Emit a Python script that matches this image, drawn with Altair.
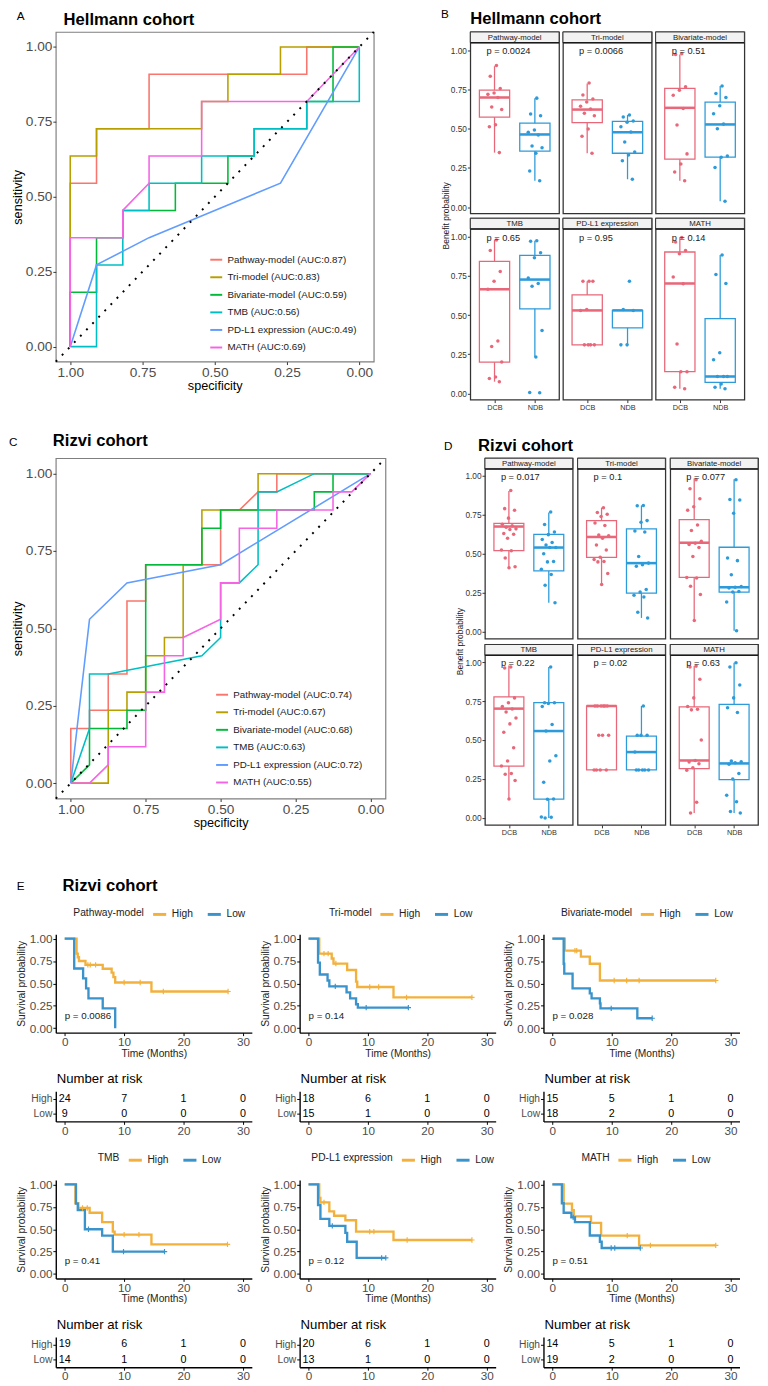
import altair as alt
import pandas as pd

FONT = "Liberation Sans"

# ------------------------------------------------------------------ ROC (panels A, C)
roc_models = ["Pathway-model", "Tri-model", "Bivariate-model", "TMB", "PD-L1 expression", "MATH"]
roc_colors = ["#F8766D", "#B79F00", "#00BA38", "#00BFC4", "#619CFF", "#F564E3"]

hell_n_dcb = 11
hell_n_ndb = 11
hell_auc = ["0.87", "0.83", "0.59", "0.56", "0.49", "0.69"]
# vertices: number of NDB patients passed (fp) and DCB patients detected (tp)
hell_fp = [
    [0, 0, 1, 1, 3, 3, 9, 9, 11],
    [0, 0, 1, 1, 5, 5, 6, 6, 8, 8, 11],
    [0, 0, 1, 1, 2, 2, 4, 4, 6, 6, 7, 7, 9, 9, 10, 10, 11],
    [0, 1, 1, 2, 2, 3, 3, 5, 5, 7, 7, 9, 9, 11, 11],
    [0, 1, 3, 8, 11],
    [0, 0, 2, 2, 3, 3, 5, 5, 9, 11],
]
hell_tp = [
    [0, 6, 6, 8, 8, 10, 10, 11, 11],
    [0, 7, 7, 8, 8, 9, 9, 10, 10, 11, 11],
    [0, 2, 2, 4, 4, 5, 5, 6, 6, 7, 7, 8, 8, 9, 9, 11, 11],
    [0, 0, 3, 3, 5, 5, 6, 6, 7, 7, 8, 8, 9, 9, 11],
    [0, 3, 4, 6, 11],
    [0, 4, 4, 5, 6, 7, 7, 9, 9, 11],
]

rizvi_n_dcb = 17
rizvi_n_ndb = 16
rizvi_auc = ["0.74", "0.67", "0.68", "0.63", "0.72", "0.55"]
rizvi_fp = [
    [0, 0, 1, 1, 2, 2, 3, 3, 4, 4, 8, 8, 9, 10, 11, 11, 16],
    [0, 2, 2, 3, 3, 4, 4, 5, 5, 6, 6, 7, 7, 10, 10, 16],
    [0, 1, 1, 3, 3, 4, 4, 7, 7, 8, 8, 13, 13, 14, 14, 16],
    [0, 1, 1, 2, 7, 8, 8, 9, 10, 10, 11, 13, 16],
    [0, 1, 3, 8, 16],
    [0, 1, 2, 2, 4, 4, 5, 5, 6, 6, 8, 8, 9, 9, 11, 11, 14, 14, 15, 16],
]
rizvi_tp = [
    [0, 3, 3, 4, 4, 6, 6, 10, 10, 12, 12, 15, 15, 16, 16, 17, 17],
    [0, 0, 4, 4, 5, 5, 7, 7, 8, 8, 12, 12, 15, 15, 17, 17],
    [0, 1, 3, 3, 4, 4, 12, 12, 14, 14, 15, 15, 16, 16, 17, 17],
    [0, 3, 6, 6, 7, 8, 11, 11, 12, 16, 16, 17, 17],
    [0, 9, 11, 12, 17],
    [0, 0, 1, 2, 2, 5, 5, 7, 7, 8, 9, 11, 11, 14, 14, 15, 15, 16, 16, 17],
]

# ------------------------------------------------------------------ boxplots (panels B, D)
box_groups = ["DCB", "NDB"]
box_colors = ["#E8687A", "#2D9BDA"]

# [lower whisker, Q1, median, Q3, upper whisker]
hell_box_dcb = [
    [0.348, 0.575, 0.700, 0.747, 0.900],
    [0.344, 0.540, 0.623, 0.685, 0.789],
    [0.168, 0.306, 0.634, 0.758, 0.975],
    [0.075, 0.200, 0.665, 0.843, 0.981],
    [0.310, 0.310, 0.530, 0.629, 0.716],
    [0.030, 0.139, 0.702, 0.903, 0.998],
]
hell_box_ndb = [
    [0.168, 0.358, 0.464, 0.536, 0.696],
    [0.178, 0.344, 0.478, 0.547, 0.588],
    [0.037, 0.319, 0.528, 0.671, 0.774],
    [0.232, 0.540, 0.727, 0.882, 0.975],
    [0.310, 0.419, 0.530, 0.530, 0.530],
    [0.030, 0.070, 0.108, 0.478, 0.884],
]
hell_pts_dcb = [
    [0.905, 0.836, 0.758, 0.729, 0.72, 0.70, 0.64, 0.623, 0.526, 0.513, 0.348],
    [0.793, 0.716, 0.69, 0.671, 0.644, 0.627, 0.60, 0.584, 0.499, 0.453, 0.344],
    [0.979, 0.975, 0.768, 0.747, 0.714, 0.63, 0.524, 0.34, 0.275, 0.224, 0.168],
    [0.98, 0.913, 0.778, 0.716, 0.665, 0.335, 0.30, 0.20, 0.105, 0.095, 0.075],
    [0.716, 0.716, 0.716, 0.536, 0.53, 0.31, 0.31, 0.31, 0.31],
    [0.995, 0.967, 0.913, 0.892, 0.743, 0.70, 0.315, 0.139, 0.139, 0.04, 0.03],
]
hell_pts_ndb = [
    [0.696, 0.594, 0.584, 0.493, 0.478, 0.46, 0.391, 0.379, 0.344, 0.23, 0.168],
    [0.588, 0.576, 0.55, 0.542, 0.513, 0.48, 0.416, 0.352, 0.333, 0.296, 0.178],
    [0.774, 0.726, 0.70, 0.648, 0.596, 0.53, 0.50, 0.327, 0.319, 0.253, 0.037],
    [0.975, 0.972, 0.899, 0.867, 0.737, 0.702, 0.685, 0.402, 0.232, 0.006, 0.004],
    [0.716, 0.536, 0.53, 0.31, 0.31],
    [0.884, 0.76, 0.702, 0.259, 0.215, 0.108, 0.108, 0.108, 0.06, 0.04, 0.03],
]
hell_pvals = ["p = 0.0024", "p = 0.0066", "p = 0.51", "p = 0.65", "p = 0.95", "p = 0.14"]

rizvi_box_dcb = [
    [0.410, 0.520, 0.675, 0.696, 0.904],
    [0.300, 0.477, 0.608, 0.713, 0.796],
    [0.071, 0.348, 0.571, 0.719, 0.983],
    [0.121, 0.333, 0.702, 0.777, 0.979],
    [0.308, 0.308, 0.719, 0.719, 0.719],
    [0.031, 0.317, 0.369, 0.713, 0.975],
]
rizvi_box_ndb = [
    [0.185, 0.390, 0.540, 0.625, 0.765],
    [0.088, 0.248, 0.440, 0.660, 0.810],
    [0.006, 0.254, 0.285, 0.542, 0.979],
    [0.000, 0.121, 0.558, 0.740, 0.969],
    [0.308, 0.308, 0.423, 0.525, 0.719],
    [0.031, 0.246, 0.350, 0.729, 0.996],
]
rizvi_pts_dcb = [
    [0.906, 0.79, 0.78, 0.729, 0.69, 0.68, 0.67, 0.66, 0.656, 0.63, 0.625, 0.60, 0.525, 0.52, 0.473, 0.417, 0.41],
    [0.796, 0.765, 0.754, 0.74, 0.698, 0.681, 0.62, 0.615, 0.60, 0.556, 0.525, 0.477, 0.463, 0.45, 0.448, 0.373, 0.302],
    [0.975, 0.917, 0.854, 0.802, 0.779, 0.685, 0.65, 0.581, 0.567, 0.56, 0.54, 0.483, 0.348, 0.345, 0.292, 0.238, 0.071],
    [0.969, 0.963, 0.771, 0.74, 0.715, 0.70, 0.68, 0.642, 0.604, 0.55, 0.45, 0.365, 0.333, 0.285, 0.281, 0.24, 0.121],
    [0.719, 0.719, 0.719, 0.719, 0.719, 0.719, 0.531, 0.531, 0.531, 0.308, 0.308, 0.308, 0.308],
    [0.975, 0.969, 0.89, 0.771, 0.715, 0.698, 0.694, 0.50, 0.369, 0.36, 0.348, 0.323, 0.306, 0.10, 0.031],
]
rizvi_pts_ndb = [
    [0.769, 0.688, 0.64, 0.623, 0.592, 0.573, 0.556, 0.54, 0.54, 0.50, 0.45, 0.448, 0.40, 0.367, 0.298, 0.185],
    [0.81, 0.808, 0.713, 0.702, 0.646, 0.64, 0.483, 0.44, 0.43, 0.42, 0.27, 0.254, 0.233, 0.223, 0.125, 0.088],
    [0.975, 0.848, 0.845, 0.76, 0.473, 0.456, 0.365, 0.29, 0.285, 0.28, 0.258, 0.254, 0.19, 0.006],
    [0.969, 0.74, 0.74, 0.735, 0.715, 0.60, 0.558, 0.40, 0.365, 0.229, 0.121, 0.12, 0.006, 0.004, 0.0],
    [0.719, 0.531, 0.531, 0.531, 0.423, 0.308, 0.308, 0.308, 0.308, 0.308],
    [0.996, 0.969, 0.854, 0.771, 0.708, 0.677, 0.365, 0.36, 0.355, 0.344, 0.285, 0.25, 0.146, 0.104, 0.042, 0.031],
]
rizvi_pvals = ["p = 0.017", "p = 0.1", "p = 0.077", "p = 0.22", "p = 0.02", "p = 0.63"]

# ------------------------------------------------------------------ Kaplan-Meier (panel E)
km_models = ["Pathway-model", "Tri-model", "Bivariate-model", "TMB", "PD-L1 expression", "MATH"]
km_pvals = ["p = 0.0086", "p = 0.14", "p = 0.028", "p = 0.41", "p = 0.12", "p = 0.51"]
km_colors = ["#F2B13C", "#3A93CB"]

km_high_t = [
    [0, 2.0, 2.2, 2.4, 3.5, 6.4, 7.9, 8.2, 8.5, 14.6],
    [0, 1.8, 3.9, 4.2, 6.5, 8.0, 8.2, 14.3],
    [0, 2.1, 4.8, 6.3, 8.0],
    [0, 1.8, 2.3, 4.2, 6.3, 8.1, 8.4, 14.6],
    [0, 1.8, 2.0, 3.5, 4.3, 6.2, 8.0, 14.3],
    [0, 1.9, 3.3, 3.6, 6.5, 8.2, 14.6],
]
km_high_s = [
    [1.0, 0.833, 0.792, 0.75, 0.708, 0.664, 0.62, 0.57, 0.51, 0.41],
    [1.0, 0.833, 0.778, 0.722, 0.65, 0.52, 0.46, 0.345],
    [1.0, 0.867, 0.80, 0.72, 0.533],
    [1.0, 0.79, 0.737, 0.684, 0.579, 0.474, 0.44, 0.33],
    [1.0, 0.85, 0.80, 0.70, 0.65, 0.60, 0.473, 0.38],
    [1.0, 0.786, 0.714, 0.643, 0.571, 0.429, 0.32],
]
km_high_end = [27.5, 27.5, 27.5, 27.4, 27.5, 27.5]
km_high_cens = [
    [3.9, 4.3, 5.2, 10.0, 12.7, 16.6, 27.5],
    [2.6, 3.3, 4.6, 10.3, 11.8, 16.5, 27.5],
    [3.8, 4.1, 10.4, 12.5, 14.6, 27.5],
    [3.0, 3.8, 10.0, 12.5, 27.4],
    [2.6, 10.3, 11.0, 16.6, 27.5],
    [12.6, 16.5, 27.5],
]
km_low_t = [
    [0, 1.6, 3.1, 3.6, 4.0, 6.4, 8.5],
    [0, 1.6, 1.9, 3.2, 3.5, 6.4, 7.0, 8.0, 8.3],
    [0, 1.9, 2.0, 3.4, 6.3, 6.6, 8.0, 8.1, 14.3],
    [0, 1.9, 2.2, 3.4, 6.3, 8.1],
    [0, 1.6, 2.0, 3.5, 6.2, 6.5, 8.1],
    [0, 1.6, 1.9, 3.2, 3.8, 6.3, 8.0, 8.3],
]
km_low_s = [
    [1.0, 0.667, 0.556, 0.444, 0.333, 0.222, 0.0],
    [1.0, 0.733, 0.60, 0.533, 0.467, 0.40, 0.333, 0.267, 0.23],
    [1.0, 0.72, 0.61, 0.444, 0.389, 0.333, 0.278, 0.222, 0.111],
    [1.0, 0.786, 0.714, 0.50, 0.429, 0.25],
    [1.0, 0.77, 0.615, 0.538, 0.46, 0.36, 0.18],
    [1.0, 0.79, 0.684, 0.632, 0.579, 0.43, 0.36, 0.29],
]
km_low_end = [8.5, 16.8, 16.8, 16.8, 13.0, 14.8]
km_low_cens = [
    [],
    [4.5, 9.7, 16.8],
    [9.9, 16.8],
    [4.0, 9.9, 16.8],
    [4.0, 12.3, 13.0],
    [3.5, 9.9, 10.5, 14.8],
]
risk_times = [0, 10, 20, 30]
risk_high = [[24, 7, 1, 0], [18, 6, 1, 0], [15, 5, 1, 0], [19, 6, 1, 0], [20, 6, 1, 0], [14, 5, 1, 0]]
risk_low = [[9, 0, 0, 0], [15, 1, 0, 0], [18, 2, 0, 0], [14, 1, 0, 0], [13, 1, 0, 0], [19, 2, 0, 0]]


# ================================================================== builders
def indep(ch):
    return ch.resolve_scale(color="independent", stroke="independent").resolve_legend(
        color="independent", stroke="independent")


def label_layer(text, x, y, size=12, bold=False):
    return alt.Chart(pd.DataFrame({"t": [text]})).mark_text(
        align="left", baseline="middle", fontSize=size, font=FONT, color="black",
        fontWeight="bold" if bold else "normal"
    ).encode(x=alt.value(x), y=alt.value(y), text="t:N")


def heading(letter, lxy, title, txy):
    return [label_layer(letter, lxy[0], lxy[1], 12), label_layer(title, txy[0], txy[1], 17, True)]


def roc_chart(fp, tp, n_dcb, n_ndb, aucs, w, h, head, legxy):
    rows = []
    labels = []
    for m, f_l, t_l, auc in zip(roc_models, fp, tp, aucs):
        lab = f"{m} (AUC:{auc})"
        labels.append(lab)
        for o, (f, t) in enumerate(zip(f_l, t_l)):
            rows.append({"label": lab, "ord": o, "spec": 1 - f / n_ndb, "sens": t / n_dcb})
    df = pd.DataFrame(rows)
    ax = dict(grid=False, domain=False, tickColor="#333333", tickSize=3, tickWidth=1,
              labelFontSize=14, labelColor="#4D4D4D", titleFontSize=13,
              titleFontWeight="normal", titleColor="black", labelPadding=1,
              titlePadding=1, values=[0, 0.25, 0.5, 0.75, 1], format=".2f")
    X = alt.X("spec:Q", scale=alt.Scale(domain=[-0.05, 1.05], reverse=True, nice=False, zero=False),
              axis=alt.Axis(title="specificity", **ax))
    Y = alt.Y("sens:Q", scale=alt.Scale(domain=[-0.05, 1.05], nice=False, zero=False),
              axis=alt.Axis(title="sensitivity", **ax))
    lines = alt.Chart(df).mark_line(strokeWidth=1.6).encode(
        x=X, y=Y,
        color=alt.Color("label:N", scale=alt.Scale(domain=labels, range=roc_colors),
                        legend=alt.Legend(orient="none", legendX=legxy[0], legendY=legxy[1],
                                          title=None, symbolType="stroke", symbolStrokeWidth=2,
                                          symbolSize=150, labelFontSize=10, labelFont=FONT,
                                          labelColor="#1A1A1A", rowPadding=5, padding=0)),
        order=alt.Order("ord:Q"),
    )
    diag = pd.DataFrame({"spec": [1.05, -0.05], "sens": [-0.05, 1.05]})
    dline = alt.Chart(diag).mark_line(color="black", strokeDash=[2, 7], strokeWidth=2).encode(x=X, y=Y)
    return alt.layer(lines, dline, *head).properties(
        width=w, height=h, view=alt.ViewBackground(stroke="#7F7F7F", strokeWidth=1.2))


def box_panel(strip, bd, bn, pd_, pn, ptxt, ydom, w, sh, ph, show_y, show_x, extra):
    H = sh + ph
    box = pd.DataFrame({
        "grp": box_groups, "pos": [1.0, 2.0],
        "lo": [bd[0], bn[0]], "q1": [bd[1], bn[1]], "med": [bd[2], bn[2]],
        "q3": [bd[3], bn[3]], "hi": [bd[4], bn[4]],
    })
    box["xl"] = box["pos"] - 0.375
    box["xr"] = box["pos"] + 0.375
    prow = []
    for g, pos, vals in [("DCB", 1.0, pd_), ("NDB", 2.0, pn)]:
        for k, v in enumerate(vals):
            jit = (((k + 1) * 0.618034) % 1.0 - 0.5) * 0.4
            prow.append({"grp": g, "val": v, "jx": pos + jit})
    pts = pd.DataFrame(prow)
    xs = alt.Scale(domain=[0.4, 2.6], nice=False, zero=False)
    ys = alt.Scale(domain=ydom, range=[H, sh], nice=False, zero=False)
    xaxis = alt.Axis(values=[1, 2], labelExpr="datum.value == 1 ? 'DCB' : 'NDB'", title=None,
                     grid=False, domain=False, tickColor="#333333", tickSize=3,
                     labelFontSize=7.5, labelColor="#333333", labelPadding=1) if show_x else None
    yaxis = alt.Axis(values=[0, 0.25, 0.5, 0.75, 1], format=".2f", title=None, grid=False,
                     domain=False, tickColor="#333333", tickSize=3, labelFontSize=8.5,
                     labelColor="#333333", labelPadding=1) if show_y else None
    col = alt.Color("grp:N", scale=alt.Scale(domain=box_groups, range=box_colors), legend=None)
    sdf = pd.DataFrame({"s": [strip]})
    strip_rect = alt.Chart(sdf).mark_rect(fill="#F2F2F2", stroke="#333333", strokeWidth=1).encode(
        x=alt.value(0), x2=alt.value(w), y=alt.value(0), y2=alt.value(sh))
    strip_txt = alt.Chart(sdf).mark_text(fontSize=8, font=FONT, color="#1A1A1A", baseline="middle").encode(
        x=alt.value(w / 2), y=alt.value(sh / 2 + 0.5), text="s:N")
    strip_rule = alt.Chart(sdf).mark_rule(color="#1A1A1A", strokeWidth=1.6).encode(
        x=alt.value(0), x2=alt.value(w), y=alt.value(sh))
    rect = alt.Chart(box).mark_rect(fill="white", strokeWidth=1.3).encode(
        x=alt.X("xl:Q", scale=xs, axis=xaxis), x2="xr:Q",
        y=alt.Y("q1:Q", scale=ys, axis=yaxis), y2="q3:Q",
        stroke=alt.Stroke("grp:N", scale=alt.Scale(domain=box_groups, range=box_colors), legend=None))
    wh_hi = alt.Chart(box).mark_rule(strokeWidth=1.3).encode(
        x=alt.X("pos:Q", scale=xs, axis=xaxis), y=alt.Y("q3:Q", scale=ys, axis=yaxis), y2="hi:Q", color=col)
    wh_lo = alt.Chart(box).mark_rule(strokeWidth=1.3).encode(
        x=alt.X("pos:Q", scale=xs, axis=xaxis), y=alt.Y("lo:Q", scale=ys, axis=yaxis), y2="q1:Q", color=col)
    med = alt.Chart(box).mark_rule(strokeWidth=2.6).encode(
        x=alt.X("xl:Q", scale=xs, axis=xaxis), x2="xr:Q", y=alt.Y("med:Q", scale=ys, axis=yaxis), color=col)
    dots = alt.Chart(pts).mark_circle(size=13, opacity=1).encode(
        x=alt.X("jx:Q", scale=xs, axis=xaxis), y=alt.Y("val:Q", scale=ys, axis=yaxis), color=col)
    pdf = pd.DataFrame({"x": [0.8], "y": [0.995], "t": [ptxt]})
    ptx = alt.Chart(pdf).mark_text(align="left", baseline="middle", fontSize=9.5, font=FONT,
                                    color="#1A1A1A").encode(
        x=alt.X("x:Q", scale=xs, axis=xaxis), y=alt.Y("y:Q", scale=ys, axis=yaxis), text="t:N")
    layers = [strip_rect, strip_txt, strip_rule, rect, wh_hi, wh_lo, med, dots, ptx] + extra
    return alt.layer(*layers).properties(
        width=w, height=H, view=alt.ViewBackground(stroke="#333333", strokeWidth=1.3))


def box_block(box_d, box_n, pts_d, pts_n, pvals, ydom, w, sh, ph, col_sp, row_sp, head, ylab_x):
    panels = []
    for i in range(6):
        extra = []
        if i == 0:
            extra += head
            ydf = pd.DataFrame({"t": ["Benefit probability"]})
            extra.append(alt.Chart(ydf).mark_text(angle=270, fontSize=8.7, font=FONT, color="#1A1A1A",
                                                  baseline="middle").encode(
                x=alt.value(ylab_x), y=alt.value(sh + ph + row_sp / 2), text="t:N"))
        panels.append(box_panel(roc_models[i], box_d[i], box_n[i], pts_d[i], pts_n[i], pvals[i],
                                ydom, w, sh, ph, i % 3 == 0, i >= 3, extra))
    return indep(alt.concat(*panels, columns=3, bounds="flush",
                            spacing=alt.RowColnumber(row=row_sp, column=col_sp)))


PLUS = "M0,-1L0,1M-1,0L1,0"
KX = alt.Scale(domain=[-1.5, 31.5], nice=False, zero=False)
KY = alt.Scale(domain=[-0.05, 1.05], nice=False, zero=False)
KM_W, KM_H, RISK_H = 201, 101, 31


def km_steps(t, s, end, grp):
    out = [{"grp": grp, "time": ti, "surv": si} for ti, si in zip(t, s)]
    out.append({"grp": grp, "time": end, "surv": s[-1]})
    return out


def surv_at(t, s, c):
    v = s[0]
    for ti, si in zip(t, s):
        if ti <= c:
            v = si
    return v


km_legend_x = [18, 30, 18, 43, 12, 39]


def km_chart(i, head=None):
    df = pd.DataFrame(km_steps(km_high_t[i], km_high_s[i], km_high_end[i], "High")
                      + km_steps(km_low_t[i], km_low_s[i], km_low_end[i], "Low"))
    cens = pd.DataFrame(
        [{"grp": "High", "time": c, "surv": surv_at(km_high_t[i], km_high_s[i], c)} for c in km_high_cens[i]]
        + [{"grp": "Low", "time": c, "surv": surv_at(km_low_t[i], km_low_s[i], c)} for c in km_low_cens[i]])
    common = dict(grid=False, domainColor="black", domainWidth=1.4, tickColor="black", tickSize=3,
                  labelFontSize=12, labelColor="#4D4D4D", titleFontSize=10.5,
                  titleFontWeight="normal", titleColor="#222222", labelPadding=1)
    X = alt.X("time:Q", scale=KX, axis=alt.Axis(values=risk_times, title="Time (Months)",
                                               titlePadding=1, **common))
    Y = alt.Y("surv:Q", scale=KY, axis=alt.Axis(values=[0, 0.25, 0.5, 0.75, 1], format=".2f",
                                               title="Survival probability", titlePadding=3, **common))
    leg = alt.Legend(orient="none", legendX=km_legend_x[i], legendY=-29, direction="horizontal",
                     title=km_models[i], titleOrient="left", symbolType="stroke",
                     symbolStrokeWidth=3, symbolSize=180, labelFontSize=10.5, titleFontSize=10.5,
                     titleFontWeight="normal", titleColor="#222222", labelColor="#222222",
                     titleFont=FONT, labelFont=FONT, columnPadding=8, titlePadding=7, padding=0)
    C = alt.Color("grp:N", scale=alt.Scale(domain=["High", "Low"], range=km_colors), legend=leg)
    lines = alt.Chart(df).mark_line(interpolate="step-after", strokeWidth=2.4).encode(x=X, y=Y, color=C)
    marks = alt.Chart(cens).mark_point(shape=PLUS, filled=False, size=30, strokeWidth=1.2,
                                       opacity=1).encode(x=X, y=Y, color=C)
    pdf = pd.DataFrame({"time": [0.0], "surv": [0.14], "lab": [km_pvals[i]]})
    ptx = alt.Chart(pdf).mark_text(align="left", baseline="middle", fontSize=10, font=FONT,
                                   color="#222222").encode(x=X, y=Y, text="lab:N")
    layers = [lines, marks, ptx] + (head or [])
    return alt.layer(*layers).properties(width=KM_W, height=KM_H)


def risk_chart(i):
    rows = ([{"grp": "High", "time": t, "n": n} for t, n in zip(risk_times, risk_high[i])]
            + [{"grp": "Low", "time": t, "n": n} for t, n in zip(risk_times, risk_low[i])])
    common = dict(grid=False, domainColor="black", domainWidth=1.4, tickColor="black", tickSize=3,
                  labelFontSize=12, labelColor="#4D4D4D", labelPadding=1, title=None)
    return alt.Chart(pd.DataFrame(rows)).mark_text(fontSize=11, font=FONT, color="black",
                                                   baseline="middle").encode(
        x=alt.X("time:Q", scale=KX, axis=alt.Axis(values=risk_times, **common)),
        y=alt.Y("grp:N", scale=alt.Scale(domain=["High", "Low"]),
                axis=alt.Axis(**{**common, "labelFontSize": 10.5})),
        text="n:Q",
    ).properties(width=KM_W, height=RISK_H,
                 title=alt.TitleParams("Number at risk", anchor="start", frame="group", fontSize=13.5,
                                       fontWeight="normal", dx=1, offset=6, color="black", font=FONT))


# ================================================================== assemble
A = roc_chart(hell_fp, hell_tp, hell_n_dcb, hell_n_ndb, hell_auc, 326, 338,
              heading("A", (-40, -16), "Hellmann cohort", (8, -12)), (157, 226))
C = roc_chart(rizvi_fp, rizvi_tp, rizvi_n_dcb, rizvi_n_ndb, rizvi_auc, 338, 349,
              heading("C", (-48, -17), "Rizvi cohort", (-3, -17)), (163, 235))
B = box_block(hell_box_dcb, hell_box_ndb, hell_pts_dcb, hell_pts_ndb, hell_pvals, [-0.04, 1.05],
              91, 11, 175, 4, 5, heading("B", (-30, -18), "Hellmann cohort", (0, -13)), -25)
D = box_block(rizvi_box_dcb, rizvi_box_ndb, rizvi_pts_dcb, rizvi_pts_ndb, rizvi_pvals,
              [-0.045, 1.045], 90, 11, 174, 5, 6, heading("D", (-42, -12), "Rizvi cohort", (-7, -12)), -25)

e_charts = [km_chart(0, heading("E", (-40, -49), "Rizvi cohort", (7, -49))), km_chart(1), km_chart(2),
            risk_chart(0), risk_chart(1), risk_chart(2),
            km_chart(3), km_chart(4), km_chart(5), risk_chart(3), risk_chart(4), risk_chart(5)]
E = indep(alt.concat(*e_charts, columns=3, bounds="flush", align="each",
                     spacing=alt.RowColnumber(row=60, column=49)))

top = indep(alt.vconcat(indep(alt.hconcat(A, B, spacing=63)), indep(alt.hconcat(C, D, spacing=54)),
                        spacing=20))
chart = indep(alt.vconcat(top, E, spacing=41)).properties(
    padding={"top": -18, "left": 0, "right": 0, "bottom": 0}).configure_view(
    stroke=None).configure_axis(labelFont=FONT, titleFont=FONT).configure_legend(
    labelFont=FONT, titleFont=FONT).configure_title(font=FONT).configure_text(font=FONT)

chart.save("out.html", embed_options={"renderer": "svg", "actions": False})
